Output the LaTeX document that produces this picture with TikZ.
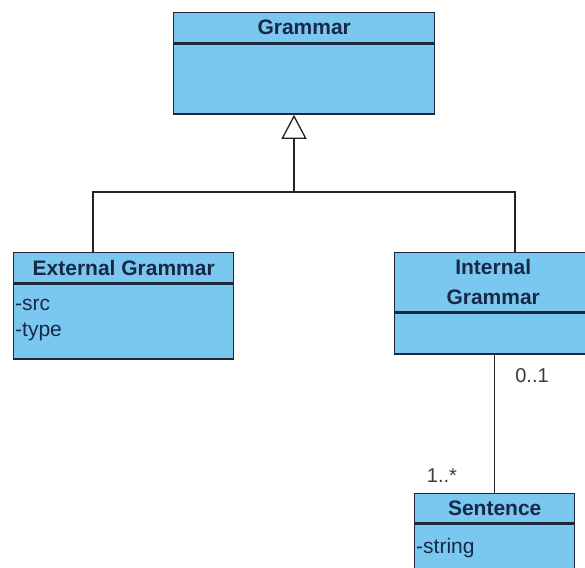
\documentclass[tikz,border=0pt]{standalone}
\usepackage{fontspec}
\setmainfont{Liberation Sans}
\usetikzlibrary{arrows.meta}

\definecolor{classfill}{RGB}{122,200,240}
\definecolor{classline}{RGB}{30,40,60}
\definecolor{classtext}{RGB}{25,40,70}
\definecolor{linkcol}{RGB}{35,35,35}
\definecolor{multtext}{RGB}{60,60,60}

\begin{document}
\begin{tikzpicture}[x=1pt,y=-1pt,
  box/.style={draw=classline, fill=classfill, line width=1.4pt, rectangle,
    inner sep=0pt, anchor=north west},
  hdr/.style={box, font=\fontsize{21}{30}\selectfont\bfseries, text=classtext, align=center},
  attr/.style={font=\fontsize{21}{26}\selectfont, text=classtext, inner sep=0pt, anchor=base west},
  mult/.style={font=\fontsize{20}{24}\selectfont, text=multtext, inner sep=0pt, anchor=base},
  link/.style={draw=linkcol, line width=1.3pt}]
\useasboundingbox (0,0) rectangle (585,567);
\fill[white] (0,0) rectangle (585,567);

% Grammar (superclass)
\node[hdr, minimum width=261, minimum height=30] (gram) at (173,12) {Grammar};
\node[box, minimum width=261, minimum height=70] (gramb) at (gram.south west) {};

% External Grammar
\node[hdr, minimum width=220, minimum height=30] (ext) at (13,252) {External Grammar};
\node[box, minimum width=220, minimum height=75] (extb) at (ext.south west) {};
\node[attr] (src) at (15,310) {-src};
\node[attr] (type) at (15,336) {-type};

% Internal Grammar
\node[hdr, minimum width=197, minimum height=59] (int) at (394,252) {Internal\\Grammar};
\node[box, minimum width=197, minimum height=41] (intb) at (int.south west) {};

% Sentence
\node[hdr, minimum width=160, minimum height=29] (sent) at (414,493) {Sentence};
\node[box, minimum width=160, minimum height=50] (sentb) at (sent.south west) {};
\node[attr] (str) at (416,553) {-string};

% Generalization
\coordinate (split) at (294,192);
\draw[link] ([xshift=80pt]ext.north west) |- (split) -| ([xshift=121pt]int.north west);
\draw[link, -{Triangle[open, length=24pt, width=25pt, fill=white]}]
  (split) -- (split |- gramb.south);

% Association with multiplicities
\draw[link] (sent.north) -- (sent.north |- intb.south);
\node[mult] (m01) at (532,382) {0..1};
\node[mult] (m1n) at (442,482) {1..*};
\end{tikzpicture}
\end{document}
